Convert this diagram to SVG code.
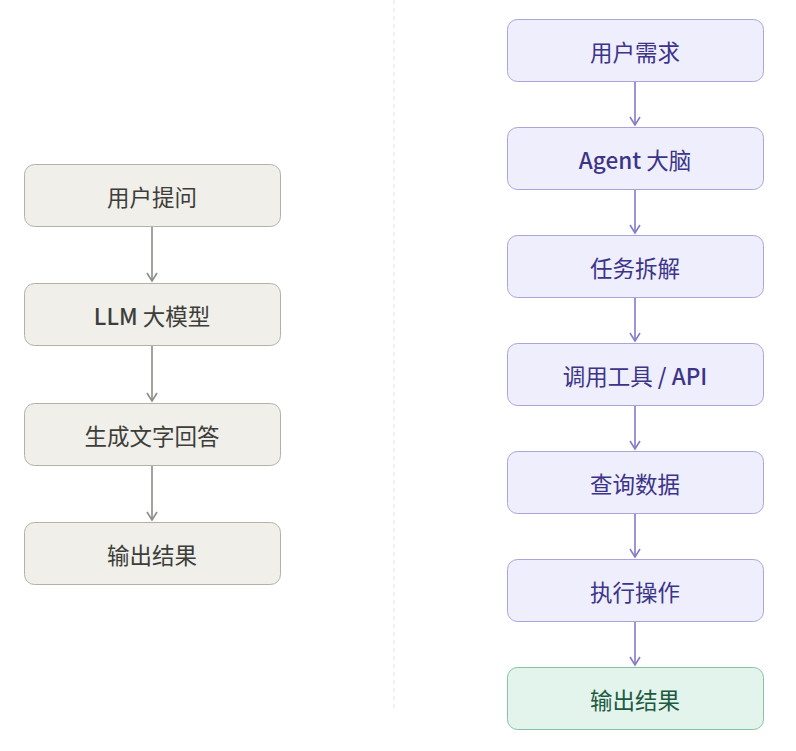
<svg xmlns="http://www.w3.org/2000/svg" width="796" height="751" viewBox="0 0 796 751">
<defs>
<style>
.l rect{fill:#f0efea;stroke:#b3b1a8;stroke-width:1}
.r rect{fill:#efeefc;stroke:#aaa4dc;stroke-width:1}
.g rect{fill:#e2f4ec;stroke:#86c2a5;stroke-width:1}
text{font-family:"Noto Sans CJK SC","Noto Sans",sans-serif;font-size:22.5px;text-anchor:middle;dominant-baseline:central;font-weight:400}
.b{font-weight:500}
.l text{fill:#3d3d3a}
.r text{fill:#3c3489}
.g text{fill:#1d5a40}
.cl{stroke:#8c8b86;stroke-width:1.6;fill:none}
.cr{stroke:#847bc9;stroke-width:1.6;fill:none}
</style>
<marker id="ml" viewBox="0 0 12 12" refX="10" refY="6" markerWidth="12" markerHeight="12" markerUnits="userSpaceOnUse" orient="auto">
<path d="M2,1 L10,6 L2,11" fill="none" stroke="#8c8b86" stroke-width="1.6"/>
</marker>
<marker id="mr" viewBox="0 0 12 12" refX="10" refY="6" markerWidth="12" markerHeight="12" markerUnits="userSpaceOnUse" orient="auto">
<path d="M2,1 L10,6 L2,11" fill="none" stroke="#847bc9" stroke-width="1.6"/>
</marker>
</defs>
<line x1="394" y1="0" x2="394" y2="712" stroke="#e3e3e3" stroke-width="1" stroke-dasharray="4,4"/>
<g id="connectors">
<line class="cl" x1="152" y1="226" x2="152" y2="281" marker-end="url(#ml)"/>
<line class="cl" x1="152" y1="345" x2="152" y2="401" marker-end="url(#ml)"/>
<line class="cl" x1="152" y1="465" x2="152" y2="520" marker-end="url(#ml)"/>
<line class="cr" x1="635" y1="81" x2="635" y2="125" marker-end="url(#mr)"/>
<line class="cr" x1="635" y1="189" x2="635" y2="233" marker-end="url(#mr)"/>
<line class="cr" x1="635" y1="297" x2="635" y2="341" marker-end="url(#mr)"/>
<line class="cr" x1="635" y1="405" x2="635" y2="449" marker-end="url(#mr)"/>
<line class="cr" x1="635" y1="513" x2="635" y2="557" marker-end="url(#mr)"/>
<line class="cr" x1="635" y1="621" x2="635" y2="665" marker-end="url(#mr)"/>
</g>
<g id="l1" class="l"><rect x="24.5" y="164.5" width="256" height="62" rx="10"/><text x="152" y="196">用户提问</text></g>
<g id="l2" class="l"><rect x="24.5" y="283.5" width="256" height="62" rx="10"/><text x="152" y="315"><tspan class="b">LLM</tspan> 大模型</text></g>
<g id="l3" class="l"><rect x="24.5" y="403.5" width="256" height="62" rx="10"/><text x="152" y="435">生成文字回答</text></g>
<g id="l4" class="l"><rect x="24.5" y="522.5" width="256" height="62" rx="10"/><text x="152" y="554">输出结果</text></g>
<g id="r1" class="r"><rect x="507.5" y="19.5" width="256" height="62" rx="10"/><text x="635" y="51">用户需求</text></g>
<g id="r2" class="r"><rect x="507.5" y="127.5" width="256" height="62" rx="10"/><text x="635" y="159"><tspan class="b">Agent</tspan> 大脑</text></g>
<g id="r3" class="r"><rect x="507.5" y="235.5" width="256" height="62" rx="10"/><text x="635" y="267">任务拆解</text></g>
<g id="r4" class="r"><rect x="507.5" y="343.5" width="256" height="62" rx="10"/><text x="635" y="375">调用工具 <tspan class="b">/ API</tspan></text></g>
<g id="r5" class="r"><rect x="507.5" y="451.5" width="256" height="62" rx="10"/><text x="635" y="483">查询数据</text></g>
<g id="r6" class="r"><rect x="507.5" y="559.5" width="256" height="62" rx="10"/><text x="635" y="591">执行操作</text></g>
<g id="r7" class="g"><rect x="507.5" y="667.5" width="256" height="62" rx="10"/><text x="635" y="699">输出结果</text></g>
</svg>
